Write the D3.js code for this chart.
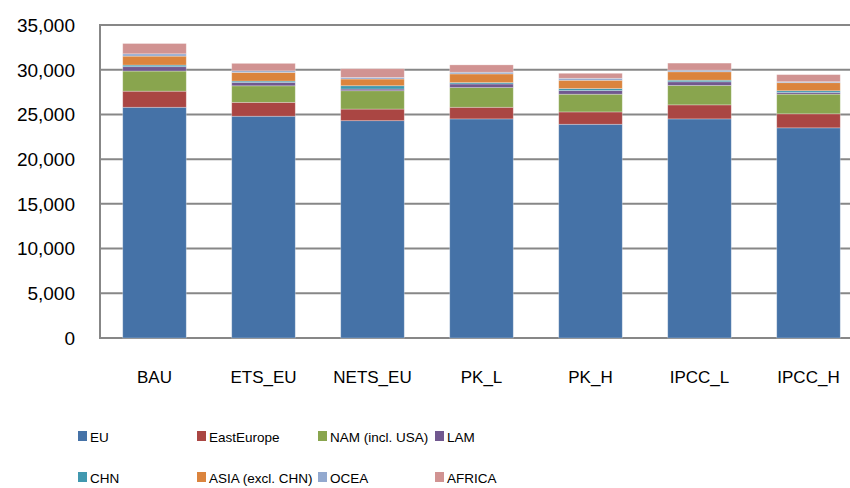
<!DOCTYPE html>
<html lang="en">
	<head>
		<meta charset="utf-8">
		<title>stacked bars</title>
		<script src="https://d3js.org/d3.v7.min.js"></script>
		<style type="text/css">
		body { margin: 0; background: #fff; }
		text {
				font-family: "Liberation Sans", Arial, sans-serif;
				fill: #000;
		}
		</style>
	</head>
	<body>
		<script type="text/javascript">

					// data
					var categories = ["BAU", "ETS_EU", "NETS_EU", "PK_L", "PK_H", "IPCC_L", "IPCC_H"];
					var seriesNames = ["EU", "EastEurope", "NAM (incl. USA)", "LAM", "CHN", "ASIA (excl. CHN)", "OCEA", "AFRICA"];
					var EU         = [25800, 24800, 24300, 24500, 23900, 24500, 23500];
					var EastEurope = [1800, 1550, 1300, 1300, 1380, 1570, 1570];
					var NAM        = [2250, 1850, 2050, 2200, 1980, 2170, 2200];
					var LAM        = [490, 380, 190, 410, 410, 410, 190];
					var CHN        = [180, 150, 370, 150, 220, 180, 190];
					var ASIA       = [1000, 970, 750, 970, 930, 940, 900];
					var OCEA       = [260, 180, 180, 190, 220, 180, 110];
					var AFRICA     = [1150, 830, 970, 820, 560, 790, 790];
					var yTicks = [0, 5000, 10000, 15000, 20000, 25000, 30000, 35000];

					var colors = ["#4572A7", "#AA4643", "#89A54E", "#71588F", "#4198AF", "#DB843D", "#93A9CF", "#D19392"];
					var seriesValues = [EU, EastEurope, NAM, LAM, CHN, ASIA, OCEA, AFRICA];

					//Width and height
					var w = 850;
					var h = 488;

					// rows for d3.stack
					var rows = categories.map(function(c, i) {
							var r = { cat: c };
							seriesNames.forEach(function(s, j) { r[s] = seriesValues[j][i]; });
							return r;
					});

					var stack = d3.stack().keys(seriesNames);
					var layers = stack(rows);

					var x = d3.scaleBand()
					.domain(categories)
					.range([100, 863])
					.paddingInner(0.417)
					.paddingOuter(0.2085);

					var y = d3.scaleLinear()
					.domain([0, 35000])
					.range([338, 25]);

					var svg = d3.select("body")
					.append("svg")
					.attr("width", w)
					.attr("height", h);

					// gridlines
					svg.selectAll("line.grid")
					.data(yTicks)
					.enter()
					.append("line")
					.attr("class", "grid")
					.attr("x1", 100)
					.attr("x2", w)
					.attr("y1", function(d) { return y(d); })
					.attr("y2", function(d) { return y(d); })
					.attr("stroke", "#878787")
					.attr("stroke-width", 2);

					// left axis line
					svg.append("line")
					.attr("x1", 100).attr("x2", 100)
					.attr("y1", y(35000) - 1).attr("y2", y(0) + 1)
					.attr("stroke", "#878787")
					.attr("stroke-width", 2);

					// tick labels
					svg.selectAll("text.ytick")
					.data(yTicks)
					.enter()
					.append("text")
					.attr("class", "ytick")
					.attr("x", 75)
					.attr("y", function(d) { return y(d); })
					.attr("dy", "0.36em")
					.attr("text-anchor", "end")
					.style("font-size", "19px")
					.text(function(d) { return d3.format(",")(d); });

					// bars
					var groups = svg.selectAll("g.layer")
					.data(layers)
					.enter()
					.append("g")
					.attr("class", "layer")
					.attr("fill", function(d, i) { return colors[i]; });

					groups.selectAll("rect")
					.data(function(d) { return d; })
					.enter()
					.append("rect")
					.attr("x", function(d) { return x(d.data.cat); })
					.attr("y", function(d) { return y(d[1]); })
					.attr("width", x.bandwidth())
					.attr("height", function(d) { return y(d[0]) - y(d[1]); })
					.attr("stroke", "#ffffff")
					.attr("stroke-opacity", 0.35)
					.attr("stroke-width", 0.8);

					// category labels
					svg.selectAll("text.cat")
					.data(categories)
					.enter()
					.append("text")
					.attr("class", "cat")
					.attr("x", function(d) { return x(d) + x.bandwidth() / 2; })
					.attr("y", 383)
					.attr("text-anchor", "middle")
					.style("font-size", "17px")
					.text(function(d) { return d; });

					// legend
					var legendX = [78, 197, 318, 435];
					var legendY = [437, 478];

					var legend = svg.selectAll("g.legend")
					.data(seriesNames)
					.enter()
					.append("g")
					.attr("class", "legend")
					.attr("transform", function(d, i) {
							return "translate(" + legendX[i % 4] + "," + legendY[Math.floor(i / 4)] + ")";
					});

					legend.append("rect")
					.attr("x", 0)
					.attr("y", -6)
					.attr("width", 9)
					.attr("height", 10)
					.attr("fill", function(d, i) { return colors[i]; });

					legend.append("text")
					.attr("x", 12)
					.attr("y", 0)
					.attr("dy", "0.36em")
					.style("font-size", "13.5px")
					.text(function(d) { return d; });

		</script>
	</body>
</html>
